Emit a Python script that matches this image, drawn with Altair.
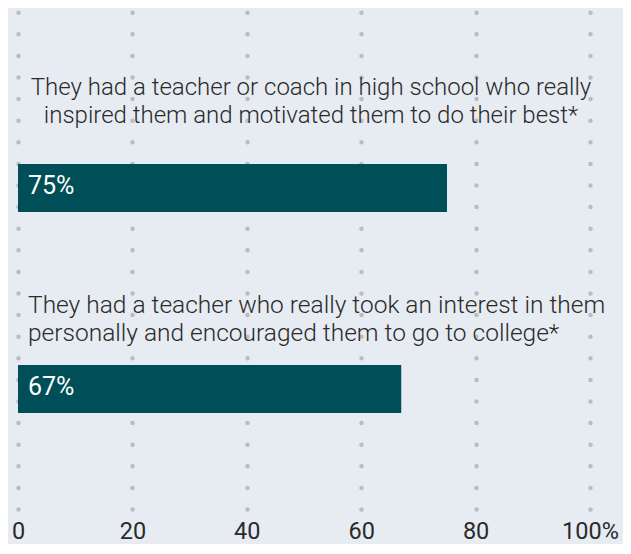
import altair as alt
import pandas as pd

statements = [
    "They had a teacher or coach in high school who really\ninspired them and motivated them to do their best*",
    "They had a teacher who really took an interest in them\npersonally and encouraged them to go to college*",
]
percents = [75, 67]
tick_values = [0, 20, 40, 60, 80, 100]
tick_labels = ["0", "20", "40", "60", "80", "100%"]

df = pd.DataFrame({
    "statement": statements,
    "pct": percents,
    "label": [f"{p}%" for p in percents],
    "idx": list(range(len(statements))),
})

BG = "#e6ecf2"
BAR = "#004f58"
TXT = "#2a2a2a"
FONT = "Roboto"

label_expr = " : ".join(
    [f"datum.value == {v} ? '{t}'" for v, t in zip(tick_values, tick_labels)] + ["datum.label"]
)

y_enc = alt.Y(
    "statement:N",
    sort=statements,
    axis=None,
    scale=alt.Scale(paddingInner=0.7612, paddingOuter=0.6269, align=0.619),
)

base = alt.Chart(df)

bars = base.mark_bar(color=BAR).encode(
    x=alt.X(
        "pct:Q",
        scale=alt.Scale(domain=[0, 100], nice=False),
        axis=alt.Axis(
            values=tick_values,
            labelExpr=label_expr,
            title=None,
            grid=True,
            gridDash=[0, 21.6],
            gridCap="round",
            gridWidth=4.5,
            gridColor="#b9bdc2",
            gridOpacity=1,
            domain=False,
            ticks=False,
            tickSize=0,
            labelFont=FONT,
            labelFontSize=23.5,
            labelColor=TXT,
            labelBaseline="alphabetic",
            labelPadding=29,
            labelFlush=False,
            labelAlign="center",
        ),
    ),
    y=y_enc,
)

bar_labels = base.mark_text(
    align="left", baseline="alphabetic", dx=10, dy=6,
    color="white", font=FONT, fontSize=25,
).encode(x=alt.datum(0), y=y_enc, text="label:N")

stmt1 = base.transform_filter("datum.idx == 0").mark_text(
    align="center", baseline="alphabetic", dx=7, dy=-93,
    color=TXT, font=FONT, fontSize=24, fontWeight=300, lineBreak="\n", lineHeight=28,
).encode(x=alt.datum(50), y=y_enc, text="statement:N")

stmt2 = base.transform_filter("datum.idx == 1").mark_text(
    align="left", baseline="alphabetic", dx=10, dy=-76,
    color=TXT, font=FONT, fontSize=24.5, fontWeight=300, lineBreak="\n", lineHeight=28,
).encode(x=alt.datum(0), y=y_enc, text="statement:N")

chart = alt.layer(bars, bar_labels, stmt1, stmt2).properties(
    width=572,
    height=501,
    padding={"left": 10, "top": 0, "right": 33, "bottom": 35},
    autosize=alt.AutoSizeParams(type="none"),
    background=BG,
).configure_view(stroke=None)

chart.save("out.html", embed_options={"renderer": "svg", "actions": False})
